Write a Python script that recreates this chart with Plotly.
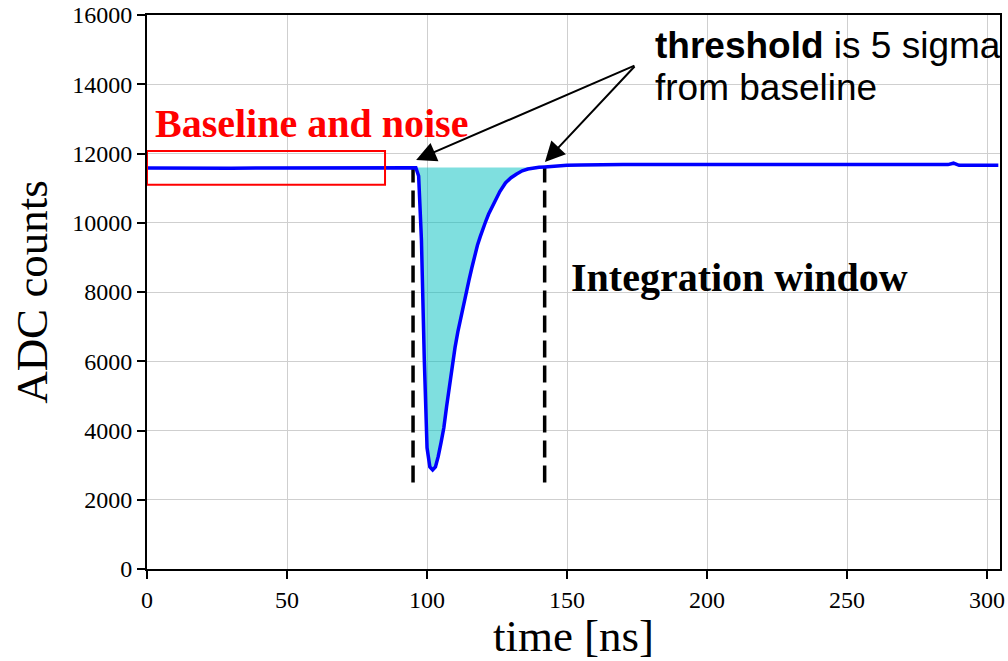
import plotly.graph_objects as go

# ---- data ----
time_ns = [0, 10, 20, 30, 40, 50, 60, 70, 80, 90, 95, 96,
           97, 98, 99, 100, 101, 102, 103, 104, 105, 106, 107, 108, 109, 110,
           111, 112, 113, 114, 115, 116, 117, 118, 119, 120, 121, 122, 124, 126,
           128, 130, 132, 134, 136, 138, 140, 142, 146, 150, 155, 160, 170, 180,
           200, 220, 240, 260, 280, 286, 288, 290, 300, 304]
adc = [11580, 11570, 11585, 11575, 11580, 11585, 11575, 11580, 11585, 11580, 11585, 11590,
       11350, 9500, 6100, 3500, 2950, 2860, 2950, 3250, 3650, 4080, 4700, 5300, 5850, 6400,
       6850, 7250, 7650, 8000, 8350, 8700, 9050, 9350, 9600, 9850, 10050, 10250, 10600, 10900,
       11150, 11300, 11410, 11500, 11550, 11580, 11600, 11610, 11640, 11660, 11670, 11680,
       11680, 11685, 11680, 11680, 11675, 11675, 11670, 11680, 11720, 11660, 11660, 11660]

threshold = 11595
win_start, win_end = 95, 142
dash_low = 2500
baseline_box_x = [0, 85]
baseline_box_y = [11100, 12070]
arrow_tail = (174.6, 14556)
arrow_heads = [(96.1, 11812), (142.1, 11755)]

x_ticks = [0, 50, 100, 150, 200, 250, 300]
y_ticks = list(range(0, 16001, 2000))

# ---- figure ----
fig = go.Figure()

# filled integration area between threshold and pulse
seg = [(t, a) for t, a in zip(time_ns, adc) if 96 <= t <= win_end]
fx = [t for t, _ in seg] + [t for t, _ in reversed(seg)]
fy = [min(a, threshold) for _, a in seg] + [threshold] * len(seg)
fig.add_trace(go.Scatter(x=fx, y=fy, fill="toself", fillcolor="rgba(0,191,191,0.5)",
                         line=dict(width=0), mode="lines", hoverinfo="skip", showlegend=False))

# dashed window lines
for xv in (win_start, win_end):
    fig.add_trace(go.Scatter(x=[xv, xv], y=[dash_low, threshold], mode="lines",
                             line=dict(color="black", width=3.5, dash="17px,8px"),
                             showlegend=False))

# waveform
fig.add_trace(go.Scatter(x=time_ns, y=adc, mode="lines",
                         line=dict(color="#0000ff", width=3.5),
                         showlegend=False))

# baseline box
fig.add_shape(type="rect", x0=baseline_box_x[0], x1=baseline_box_x[1],
              y0=baseline_box_y[0], y1=baseline_box_y[1],
              line=dict(color="red", width=2))

serif = "Liberation Serif"

fig.add_annotation(x=2.1, y=12881, xref="x", yref="y", text="<b>Baseline and noise</b>",
                   showarrow=False, xanchor="left", yanchor="middle",
                   font=dict(family=serif, size=40, color="red"))
fig.add_annotation(x=150.7, y=8433, xref="x", yref="y", text="<b>Integration window</b>",
                   showarrow=False, xanchor="left", yanchor="middle",
                   font=dict(family=serif, size=40, color="black"))
fig.add_annotation(x=180.7, y=15133, xref="x", yref="y",
                   text="<b>threshold</b> is 5 sigma",
                   showarrow=False, xanchor="left", yanchor="middle", align="left",
                   font=dict(family="Liberation Sans", size=37, color="black"))
fig.add_annotation(x=180.7, y=13920, xref="x", yref="y",
                   text="from baseline",
                   showarrow=False, xanchor="left", yanchor="middle", align="left",
                   font=dict(family="Liberation Sans", size=37, color="black"))

for hx, hy in arrow_heads:
    fig.add_annotation(x=hx, y=hy, xref="x", yref="y", ax=arrow_tail[0], ay=arrow_tail[1],
                       axref="x", ayref="y", text="", showarrow=True,
                       arrowhead=2, arrowsize=2, arrowwidth=2, arrowcolor="black")

axis_common = dict(showgrid=True, gridcolor="#cfcfcf", gridwidth=1, showline=True,
                   linecolor="black", linewidth=2, mirror=True, ticks="outside",
                   ticklen=8, tickwidth=1.5, tickcolor="black", zeroline=False,
                   automargin=False,
                   tickfont=dict(family=serif, size=24, color="black"))

fig.update_xaxes(range=[0, 304.6], tickvals=x_ticks, tickformat="d",
                 title=dict(text="time [ns]", font=dict(family=serif, size=45, color="black"),
                            standoff=8),
                 **axis_common)
fig.update_yaxes(range=[0, 16000], tickvals=y_ticks, tickformat="d",
                 title=dict(text="ADC counts", font=dict(family=serif, size=45, color="black"),
                            standoff=10),
                 **axis_common)

fig.update_layout(width=1008, height=661, margin=dict(l=147, r=8, t=15, b=92),
                  plot_bgcolor="white", paper_bgcolor="white")

fig.write_html("out.html")
